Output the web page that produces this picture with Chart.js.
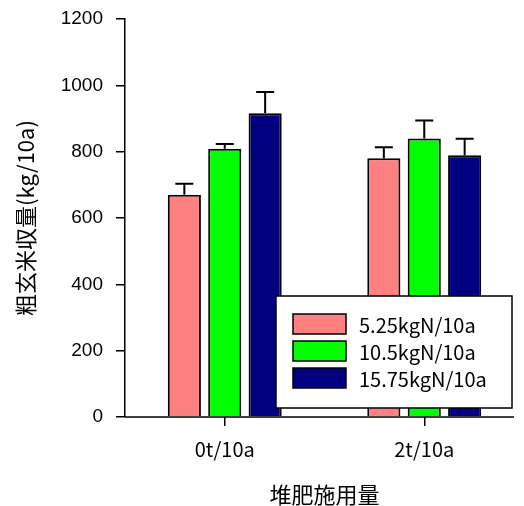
<!DOCTYPE html>
<html>
<head>
<meta charset="utf-8">
<script src="https://cdn.jsdelivr.net/npm/chart.js@4.4.1/dist/chart.umd.min.js"></script>
<style>
  html, body { margin: 0; padding: 0; background: #fff; overflow: hidden; }
</style>
</head>
<body>
<canvas id="yieldChart" width="524" height="506"></canvas>
<script>
// data
const categories = ['0t/10a', '2t/10a'];
const seriesNames = ['5.25kgN/10a', '10.5kgN/10a', '15.75kgN/10a'];
const yieldLow = [670, 780];
const yieldMid = [809, 840];
const yieldHigh = [916, 789];
const errLow = [33, 33];
const errMid = [14, 54];
const errHigh = [64, 50];
const yTicks = [0, 200, 400, 600, 800, 1000, 1200];

const seriesValues = [yieldLow, yieldMid, yieldHigh];
const seriesErrors = [errLow, errMid, errHigh];
const seriesColors = ['#ff8080', '#00ff00', '#000080'];

const CJK = '"Noto Sans CJK JP", "Noto Sans", sans-serif';
const LEGEND_BOX = { x: 276, y: 296, w: 236, h: 112 };
const AXIS_RIGHT_TRIM = 10;

const errorBars = {
    id: 'errorBars',
    afterDatasetsDraw(chart) {
        const ctx = chart.ctx;
        const yScale = chart.scales.y;
        chart.data.datasets.forEach((ds, i) => {
            const meta = chart.getDatasetMeta(i);
            meta.data.forEach((bar, j) => {
                const top = yScale.getPixelForValue(seriesValues[i][j] + seriesErrors[i][j]);
                ctx.save();
                ctx.strokeStyle = '#000';
                ctx.lineWidth = 2;
                ctx.beginPath();
                ctx.moveTo(bar.x, bar.y);
                ctx.lineTo(bar.x, top);
                ctx.moveTo(bar.x - 9, top);
                ctx.lineTo(bar.x + 9, top);
                ctx.stroke();
                ctx.restore();
            });
        });
    }
};

// bottom axis line stops a little short of the canvas edge
const bottomAxis = {
    id: 'bottomAxis',
    afterDatasetsDraw(chart) {
        const { ctx, chartArea } = chart;
        ctx.save();
        ctx.strokeStyle = '#000';
        ctx.lineWidth = 1.5;
        ctx.beginPath();
        ctx.moveTo(chartArea.left, chartArea.bottom);
        ctx.lineTo(chartArea.right - AXIS_RIGHT_TRIM, chartArea.bottom);
        ctx.stroke();
        ctx.restore();
    }
};

// legend box sits over the bars, so draw it last
const boxLegend = {
    id: 'boxLegend',
    afterDraw(chart) {
        const ctx = chart.ctx;
        const b = LEGEND_BOX;
        ctx.save();
        ctx.fillStyle = '#fff';
        ctx.fillRect(b.x, b.y, b.w, b.h);
        ctx.strokeStyle = '#000';
        ctx.lineWidth = 1.5;
        ctx.strokeRect(b.x, b.y, b.w, b.h);
        ctx.font = '20px ' + CJK;
        ctx.textBaseline = 'middle';
        ctx.textAlign = 'left';
        chart.data.datasets.forEach((ds, i) => {
            const rowY = b.y + 18 + i * 27;
            ctx.fillStyle = ds.backgroundColor;
            ctx.fillRect(b.x + 17, rowY, 53, 20);
            ctx.strokeRect(b.x + 17, rowY, 53, 20);
            ctx.fillStyle = '#000';
            ctx.fillText(ds.label, b.x + 83, rowY + 11);
        });
        ctx.restore();
    }
};

new Chart(document.getElementById('yieldChart'), {
    type: 'bar',
    data: {
        labels: categories,
        datasets: seriesNames.map((name, i) => ({
            label: name,
            data: seriesValues[i],
            backgroundColor: seriesColors[i],
            borderColor: '#000',
            borderWidth: 2,
            categoryPercentage: 0.6075,
            barPercentage: 0.82
        }))
    },
    options: {
        responsive: false,
        animation: false,
        layout: { padding: { top: 19, left: 0, right: 0, bottom: 0 } },
        plugins: {
            legend: { display: false },
            tooltip: { enabled: false }
        },
        scales: {
            x: {
                offset: true,
                grid: {
                    drawOnChartArea: false,
                    offset: false,
                    tickLength: 9,
                    color: '#000',
                    lineWidth: 1.5
                },
                border: { display: false },
                ticks: {
                    color: '#000',
                    padding: 11,
                    font: { family: CJK, size: 20 }
                },
                title: {
                    display: true,
                    text: '堆肥施用量',
                    color: '#000',
                    padding: { top: 0, bottom: 0 },
                    font: { family: CJK, size: 22, lineHeight: 1 }
                },
                afterFit(scale) {
                    scale.height = 89;
                    scale.paddingLeft = 0;
                    scale.paddingRight = 0;
                }
            },
            y: {
                min: 0,
                max: 1200,
                afterBuildTicks(scale) { scale.ticks = yTicks.map(v => ({ value: v })); },
                grid: {
                    drawOnChartArea: false,
                    tickLength: 9,
                    color: '#000',
                    lineWidth: 1.5
                },
                border: { display: true, color: '#000', width: 1.5 },
                ticks: {
                    color: '#000',
                    padding: 13,
                    callback: v => String(v),
                    font: { family: '"Liberation Sans", Arial, sans-serif', size: 19 }
                },
                title: {
                    display: true,
                    text: '粗玄米収量(kg/10a)',
                    color: '#000',
                    padding: { top: 12, bottom: 0 },
                    font: { family: CJK, size: 22 }
                },
                afterFit(scale) {
                    scale.width = 125;
                    scale.paddingTop = 0;
                    scale.paddingBottom = 0;
                }
            }
        }
    },
    plugins: [errorBars, bottomAxis, boxLegend]
});
</script>
</body>
</html>
